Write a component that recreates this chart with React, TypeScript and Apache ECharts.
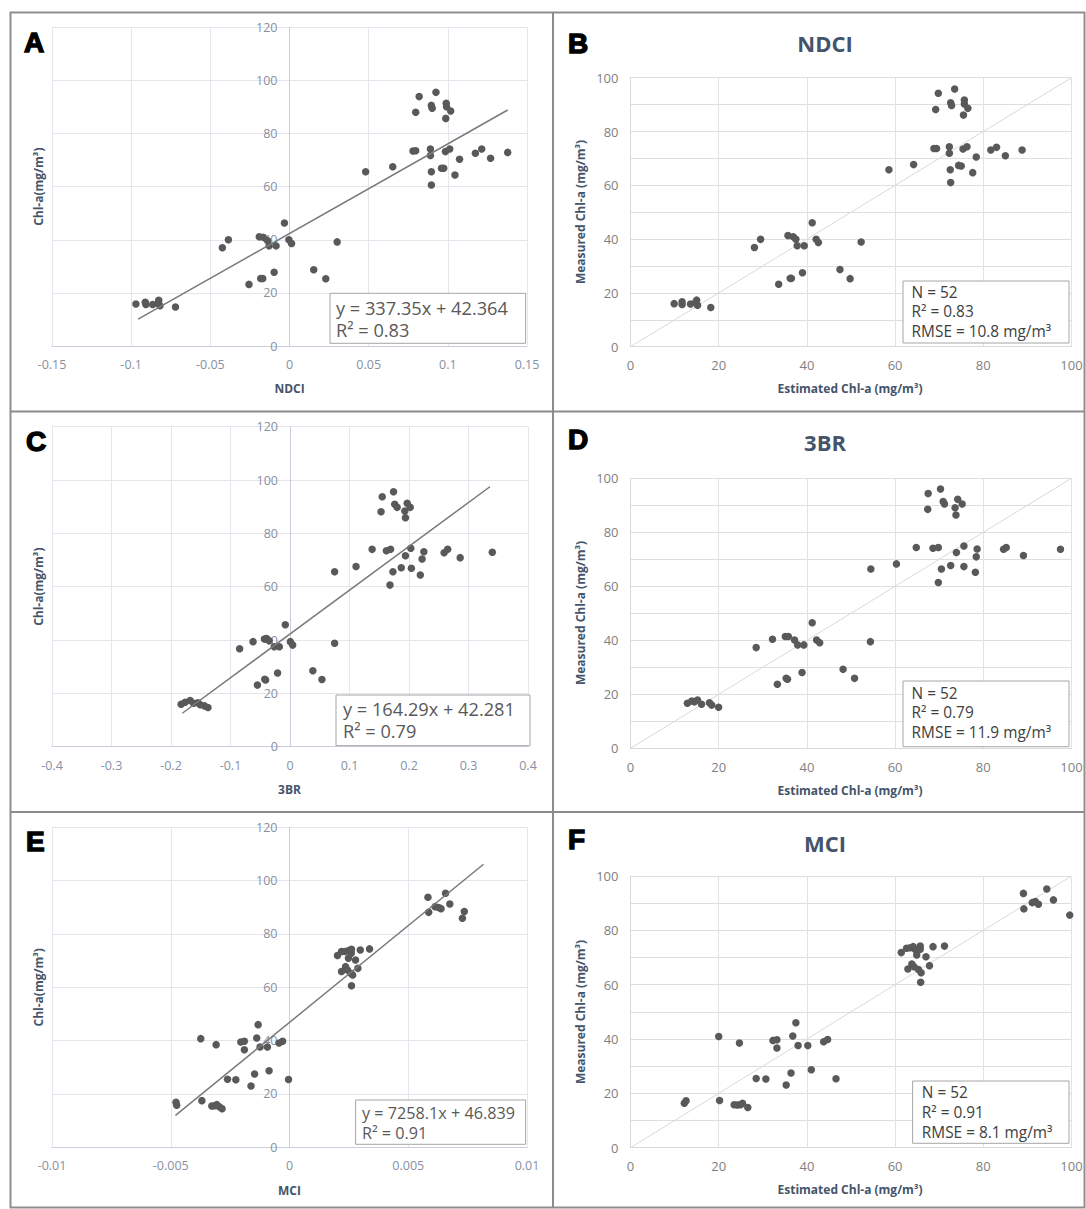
import React, { useEffect, useRef } from "react";
import * as echarts from "echarts";

const FONT = "'Open Sans', 'Noto Sans', sans-serif";

// ---------- Panel A : NDCI index vs measured Chl-a ----------
const aNdci = [0.0819, 0.0925, 0.0797, 0.0896, 0.0901, 0.099, 0.0992, 0.1018, 0.0987, 0.078, 0.0797, 0.089, 0.089, 0.0985, 0.1012, 0.1174, 0.1214, 0.127, 0.1378, 0.1074, 0.096, 0.0974, 0.0896, 0.1045, 0.0896, 0.0481, 0.0652,
  -0.0424, -0.0386, -0.0191, -0.0165, -0.0138, -0.0129, -0.0085, -0.0032, -0.0004, 0.0013, 0.0301, -0.0256, -0.0182, -0.0169, -0.0097, 0.0153, 0.0229,
  -0.097, -0.0911, -0.0907, -0.0864, -0.083, -0.0826, -0.0818, -0.072];
const aChl = [93.9, 95.5, 88.0, 90.6, 89.5, 91.4, 90.1, 88.5, 85.7, 73.4, 73.5, 74.2, 71.7, 73.2, 74.2, 72.6, 74.2, 70.7, 72.9, 70.3, 66.9, 66.9, 65.6, 64.4, 60.6, 65.6, 67.5,
  37.0, 40.0, 41.1, 40.9, 39.6, 37.7, 37.7, 46.3, 40.0, 38.6, 39.2, 23.2, 25.4, 25.4, 27.8, 28.7, 25.3,
  15.8, 16.5, 15.6, 15.6, 16.0, 17.2, 15.2, 14.7];

// ---------- Panel B : NDCI estimated vs measured ----------
const bEst = [69.8, 73.5, 69.2, 72.6, 72.8, 75.7, 75.7, 76.5, 75.5, 68.8, 69.4, 72.3, 72.3, 75.4, 76.3, 81.7, 83.0, 85.0, 88.8, 78.4, 74.4, 75.0, 72.5, 77.6, 72.6, 58.6, 64.2,
  28.1, 29.5, 35.7, 36.9, 37.5, 37.8, 39.4, 41.2, 42.1, 42.6, 52.3, 33.6, 36.2, 36.5, 39.0, 47.5, 49.8,
  9.9, 11.7, 11.7, 13.6, 14.8, 15.0, 15.2, 18.2];
const bMeas = [94.2, 95.8, 88.2, 90.7, 89.7, 91.7, 90.2, 88.6, 86.1, 73.7, 73.7, 74.3, 71.9, 73.5, 74.3, 73.1, 74.1, 71.0, 73.1, 70.5, 67.4, 67.2, 65.8, 64.7, 61.0, 65.8, 67.7,
  36.9, 39.9, 41.3, 40.9, 39.9, 37.5, 37.5, 46.1, 39.9, 38.7, 38.9, 23.2, 25.4, 25.4, 27.5, 28.7, 25.3,
  16.0, 16.7, 15.7, 15.9, 16.5, 17.3, 15.4, 14.6];

// ---------- Panel C : 3BR index vs measured Chl-a ----------
const c3br = [0.155, 0.174, 0.153, 0.176, 0.180, 0.197, 0.202, 0.193, 0.194, 0.138, 0.162, 0.169, 0.203, 0.194, 0.225, 0.222, 0.259, 0.265, 0.286, 0.340, 0.173, 0.187, 0.204, 0.219, 0.168, 0.075, 0.111,
  -0.0847, -0.0621, -0.043, -0.0395, -0.035, -0.0266, -0.018, -0.0079, 0.0006, 0.0045, 0.075, -0.0548, -0.0424, -0.041, -0.0209, 0.0384, 0.0537,
  -0.183, -0.1763, -0.1678, -0.1621, -0.1548, -0.1508, -0.1435, -0.1379];
const cChl = [93.75, 95.6, 88.1, 90.9, 89.75, 91.25, 89.75, 88.4, 85.9, 74.0, 73.5, 74.0, 74.4, 71.6, 73.1, 70.4, 72.75, 74.0, 70.9, 72.9, 65.6, 67.1, 66.9, 64.4, 60.6, 65.6, 67.6,
  36.7, 39.4, 40.4, 40.6, 39.75, 37.5, 37.5, 45.7, 39.4, 38.1, 38.8, 23.1, 25.3, 25.0, 27.65, 28.5, 25.2,
  15.9, 16.7, 17.3, 16.3, 16.5, 15.7, 15.3, 14.7];

// ---------- Panel D : 3BR estimated vs measured ----------
const dEst = [67.5, 70.3, 67.4, 70.9, 71.2, 74.2, 75.2, 73.6, 73.8, 64.8, 68.6, 69.8, 75.6, 73.9, 78.6, 78.4, 84.6, 85.2, 89.1, 97.5, 70.5, 72.6, 75.6, 78.2, 69.8, 54.5, 60.3,
  28.5, 32.2, 35.1, 35.8, 37.2, 37.9, 39.3, 41.2, 42.2, 42.9, 54.4, 33.3, 35.3, 35.6, 38.9, 48.2, 50.8,
  12.9, 13.9, 15.2, 16.1, 17.9, 18.4, 19.97, 14.5];
const dMeas = [94.4, 96.0, 88.5, 91.4, 90.5, 92.2, 90.5, 89.1, 86.4, 74.4, 74.1, 74.4, 74.9, 72.5, 73.8, 70.9, 73.7, 74.4, 71.4, 73.7, 66.4, 67.7, 67.3, 65.2, 61.4, 66.4, 68.3,
  37.3, 40.4, 41.4, 41.4, 40.1, 38.3, 38.3, 46.5, 40.1, 39.1, 39.5, 23.7, 25.9, 25.6, 28.1, 29.3, 25.9,
  16.7, 17.5, 17.9, 16.3, 16.9, 16.0, 15.2, 17.2];

// ---------- Panel E : MCI index vs measured Chl-a ----------
const eMci = [0.00583, 0.00657, 0.00586, 0.00613, 0.00628, 0.00638, 0.00675, 0.00736, 0.00728,
  0.00202, 0.00219, 0.00233, 0.00248, 0.00258, 0.00261, 0.00248, 0.00278, 0.00298, 0.00337, 0.00219, 0.00236, 0.00244, 0.00258, 0.00266, 0.00288, 0.00261, 0.0026,
  -0.003736, -0.00309, -0.00205, -0.0019, -0.0019, -0.00138, -0.00132, -0.00124, -0.00093, -0.00044, -0.00029, -0.00261, -0.00226, -0.00162, -0.00147, -0.00086, -0.00004,
  -0.00478, -0.00475, -0.00369, -0.00327, -0.00316, -0.00306, -0.00296, -0.00284];
const eChl = [93.75, 95.25, 88.1, 90.25, 89.9, 89.5, 91.25, 88.4, 85.9,
  71.9, 73.4, 73.4, 73.75, 73.4, 74.25, 70.9, 70.25, 74.0, 74.4, 65.9, 67.75, 66.5, 65.25, 64.6, 67.1, 60.6, 72.8,
  40.75, 38.5, 39.5, 39.75, 36.6, 41.0, 46.0, 37.6, 37.6, 39.1, 39.75, 25.5, 25.3, 23.0, 27.5, 28.7, 25.4,
  16.9, 15.8, 17.5, 15.5, 15.6, 16.0, 15.2, 14.5];

// ---------- Panel F : MCI estimated vs measured ----------
const fEst = [89.1, 94.4, 89.2, 91.1, 91.8, 92.5, 95.9, 99.6,
  61.4, 62.6, 63.4, 64.1, 64.5, 65.7, 65.7, 64.9, 67.0, 68.6, 71.2, 62.9, 63.8, 64.3, 65.3, 65.9, 67.8, 65.8,
  20.0, 24.7, 32.3, 33.2, 33.2, 36.8, 37.5, 38.0, 40.2, 43.8, 44.7, 28.5, 30.7, 35.3, 36.4, 41.0, 46.6,
  12.2, 12.6, 20.2, 23.5, 24.2, 24.9, 25.4, 26.6];
const fMeas = [93.6, 95.2, 87.9, 90.2, 90.6, 89.6, 91.2, 85.6,
  71.8, 73.4, 73.6, 74.0, 73.0, 74.2, 73.0, 70.9, 70.3, 74.0, 74.2, 65.8, 67.6, 66.6, 65.6, 64.4, 67.0, 60.9,
  40.9, 38.5, 39.5, 39.7, 36.7, 41.1, 46.0, 37.6, 37.6, 39.0, 39.8, 25.5, 25.3, 23.1, 27.5, 28.7, 25.4,
  16.4, 17.3, 17.4, 15.8, 15.7, 15.8, 16.3, 14.8];

// regression lines (slope, intercept, x from, x to)
const regA = [337.35, 42.364, -0.0956, 0.1378];
const regC = [164.29, 42.281, -0.181, 0.336];
const regE = [7258.1, 46.839, -0.0048, 0.00817];

// axis ranges [min, max, interval]
const xRangeA = [-0.15, 0.15, 0.05];
const xRangeC = [-0.4, 0.4, 0.1];
const xRangeE = [-0.01, 0.01, 0.005];
const yRangeIndex = [0, 120, 20];
const rangeEst = [0, 100, 20];

const panelLetters = ["A", "B", "C", "D", "E", "F"];
const indexNames = ["NDCI", "3BR", "MCI"];
const equations = [
  ["y = 337.35x + 42.364", "R² = 0.83"],
  ["y = 164.29x + 42.281", "R² = 0.79"],
  ["y = 7258.1x + 46.839", "R² = 0.91"],
];
const stats = [
  ["N = 52", "R² = 0.83", "RMSE = 10.8 mg/m³"],
  ["N = 52", "R² = 0.79", "RMSE = 11.9 mg/m³"],
  ["N = 52", "R² = 0.91", "RMSE = 8.1 mg/m³"],
];

const pairs = (xs: number[], ys: number[]) => xs.map((x, i) => [x, ys[i]]);
const fmt = (v: number) => String(parseFloat(Number(v).toFixed(4)));

export default function App() {
  const ref = useRef<HTMLDivElement>(null);
  useEffect(() => {
    if (!ref.current) return;
    const chart = echarts.init(ref.current, undefined, { renderer: "svg" });

    // grid geometry (px)
    const grids = [
      { left: 52, top: 27.3, width: 475, height: 318.7 },
      { left: 630.5, top: 77.7, width: 441, height: 269 },
      { left: 52, top: 426.7, width: 476, height: 320 },
      { left: 630.5, top: 478.3, width: 441, height: 270 },
      { left: 52, top: 827.3, width: 475, height: 320 },
      { left: 630.5, top: 876, width: 441, height: 271.7 },
    ];
    const xRanges: any = { 0: xRangeA, 2: xRangeC, 4: xRangeE };

    const idxX = (i: number, r: number[]) => ({
      type: "value", gridIndex: i, min: r[0], max: r[1], interval: r[2],
      axisLine: { show: true, onZero: false, lineStyle: { color: "#c8cedb", width: 1 } },
      axisTick: { show: false },
      axisLabel: { color: "#8790a4", fontSize: 12.5, fontFamily: FONT, margin: 12, formatter: (v: number) => fmt(v) },
      splitLine: { show: true, lineStyle: { color: "#e3e6ed", width: 1 } },
    });
    const idxY = (i: number) => {
      const r = xRanges[i];
      const zeroOffset = ((0 - r[0]) / (r[1] - r[0])) * grids[i].width;
      return {
        type: "value", gridIndex: i, min: yRangeIndex[0], max: yRangeIndex[1], interval: yRangeIndex[2],
        offset: -zeroOffset,
        axisLine: { show: true, onZero: false, lineStyle: { color: "#c8cedb", width: 1 } },
        axisTick: { show: false },
        axisLabel: { color: "#8790a4", fontSize: 12.5, fontFamily: FONT, margin: 12 },
        splitLine: { show: true, lineStyle: { color: "#e3e6ed", width: 1 } },
      };
    };
    const estX = (i: number) => ({
      type: "value", gridIndex: i, min: rangeEst[0], max: rangeEst[1], interval: rangeEst[2],
      axisLine: { show: true, lineStyle: { color: "#d9d9d9", width: 1 } },
      axisTick: { show: false },
      axisLabel: { color: "#7f7f7f", fontSize: 13, fontFamily: FONT, margin: 12 },
      splitLine: { show: true, lineStyle: { color: "#e2e2e2", width: 1 } },
    });
    const estY = (i: number) => ({
      type: "value", gridIndex: i, min: rangeEst[0], max: rangeEst[1], interval: rangeEst[2] / 2,
      axisLine: { show: true, lineStyle: { color: "#d9d9d9", width: 1 } },
      axisTick: { show: false },
      axisLabel: { color: "#7f7f7f", fontSize: 13, fontFamily: FONT, margin: 12,
        formatter: (v: number) => (Math.round(v) % 20 === 0 ? String(Math.round(v)) : "") },
      splitLine: { show: true, lineStyle: { color: "#dedede", width: 1 } },
    });

    const scatter = (i: number, xs: number[], ys: number[]) => ({
      type: "scatter", xAxisIndex: i, yAxisIndex: i, data: pairs(xs, ys),
      symbolSize: 7.5, itemStyle: { color: "#595959", opacity: 1 }, z: 3,
    });
    const trend = (i: number, r: number[]) => ({
      type: "line", xAxisIndex: i, yAxisIndex: i, symbol: "none", z: 4,
      data: [[r[2], r[0] * r[2] + r[1]], [r[3], r[0] * r[3] + r[1]]],
      lineStyle: { color: "#7a7a7a", width: 1.5 },
    });
    const oneToOne = (i: number) => ({
      type: "line", xAxisIndex: i, yAxisIndex: i, symbol: "none", z: 2,
      data: [[rangeEst[0], rangeEst[0]], [rangeEst[1], rangeEst[1]]],
      lineStyle: { color: "#d9d9d9", width: 1 },
    });

    const text = (t: string, x: number, y: number, size: number, color: string, weight = "normal", align = "left", rot = 0, extra: any = {}) => ({
      type: "text", x, y, rotation: rot, z: 100,
      style: {
        text: t, fill: color, font: `${weight} ${size}px ${FONT}`,
        align, textAlign: align, verticalAlign: "middle", textVerticalAlign: "middle", ...extra,
      },
    });
    const rect = (x: number, y: number, w: number, h: number) => ({
      type: "rect", z: 90, shape: { x, y, width: w, height: h },
      style: { fill: "#ffffff", stroke: "#a6a6a6", lineWidth: 1 },
    });
    const line = (x1: number, y1: number, x2: number, y2: number) => ({
      type: "line", z: 110, shape: { x1, y1, x2, y2 }, style: { stroke: "#8c8c8c", lineWidth: 2 },
    });

    const graphic: any[] = [];
    // borders
    graphic.push({ type: "rect", z: 110, shape: { x: 10.5, y: 12.5, width: 1074, height: 1195 }, style: { fill: "none", stroke: "#8f8f8f", lineWidth: 2 } });
    graphic.push(line(553, 12, 553, 1208));
    graphic.push(line(10, 411.5, 1085, 411.5));
    graphic.push(line(10, 812, 1085, 812));

    // panel letters
    const letterPos = [[24, 42], [568, 43], [26, 441], [568, 439], [26, 841], [568, 839]];
    panelLetters.forEach((L, k) => {
      graphic.push(text(L, letterPos[k][0], letterPos[k][1], 28, "#000000", "bold", "left", 0,
        { font: "bold 28px 'Liberation Sans', Arial, sans-serif", stroke: "#000", lineWidth: 1.4 }));
    });

    // left column axis titles
    const leftRows = [[186.7, 388], [586.7, 789], [987.3, 1190]];
    indexNames.forEach((n, k) => {
      graphic.push(text(n, 289.5, leftRows[k][1], 12, "#44546a", "bold", "center"));
      graphic.push(text("Chl-a(mg/m³)", 38.8, leftRows[k][0], 12, "#44546a", "bold", "center", Math.PI / 2));
    });
    // right column titles
    const rightRows = [[43, 212, 388], [442, 613, 790], [843, 1012, 1189]];
    indexNames.forEach((n, k) => {
      graphic.push(text(n, 825, rightRows[k][0], 22, "#44546a", "bold", "center"));
      graphic.push(text("Measured Chl-a (mg/m³)", 580, rightRows[k][1], 12, "#44546a", "bold", "center", Math.PI / 2));
      graphic.push(text("Estimated Chl-a (mg/m³)", 850, rightRows[k][2], 12, "#44546a", "bold", "center"));
    });

    // equation boxes: [x, y, w, h, textX, line1 center, line spacing, fontSize]
    const eqBox = [[330, 293.3, 195.6, 50, 336, 307.5, 22, 18.2], [336, 695, 194, 50.7, 343, 709.3, 22, 18.2], [355.6, 1100, 170, 44.3, 362, 1113, 20, 16.2]];
    eqBox.forEach((b, k) => {
      graphic.push(rect(b[0], b[1], b[2], b[3]));
      graphic.push(text(equations[k][0], b[4], b[5], b[7], "#595959", "normal", "left", 0, { lineHeight: b[6] - 1 }));
      graphic.push(text(equations[k][1], b[4], b[5] + b[6], b[7], "#595959", "normal", "left", 0, { lineHeight: b[6] - 1 }));
    });
    // stats boxes: [x, y, w, h, textX, line1 center, spacing]
    const stBox = [[903, 281, 166, 62, 911.6, 292, 19.8], [903, 681, 166, 65.7, 911.6, 693, 19.8], [912.6, 1081, 156.4, 62.3, 921.8, 1092.5, 19.8]];
    stBox.forEach((b, k) => {
      graphic.push(rect(b[0], b[1], b[2], b[3]));
      stats[k].forEach((s, j) => {
        graphic.push(text(s, b[4], b[5] + j * b[6], 15.4, "#404040", "normal", "left", 0, { lineHeight: b[6] - 1 }));
      });
    });

    const option: any = {
      animation: false,
      backgroundColor: "#ffffff",
      textStyle: { fontFamily: FONT },
      grid: grids.map((g) => ({ ...g, containLabel: false })),
      xAxis: [idxX(0, xRangeA), estX(1), idxX(2, xRangeC), estX(3), idxX(4, xRangeE), estX(5)],
      yAxis: [idxY(0), estY(1), idxY(2), estY(3), idxY(4), estY(5)],
      series: [
        scatter(0, aNdci, aChl), trend(0, regA),
        oneToOne(1), scatter(1, bEst, bMeas),
        scatter(2, c3br, cChl), trend(2, regC),
        oneToOne(3), scatter(3, dEst, dMeas),
        scatter(4, eMci, eChl), trend(4, regE),
        oneToOne(5), scatter(5, fEst, fMeas),
      ],
      graphic,
    };
    chart.setOption(option);
    return () => chart.dispose();
  }, []);

  return (
    <div
      ref={ref}
      style={{ position: "absolute", left: 0, top: 0, width: 1086, height: 1209, background: "#fff" }}
    />
  );
}
